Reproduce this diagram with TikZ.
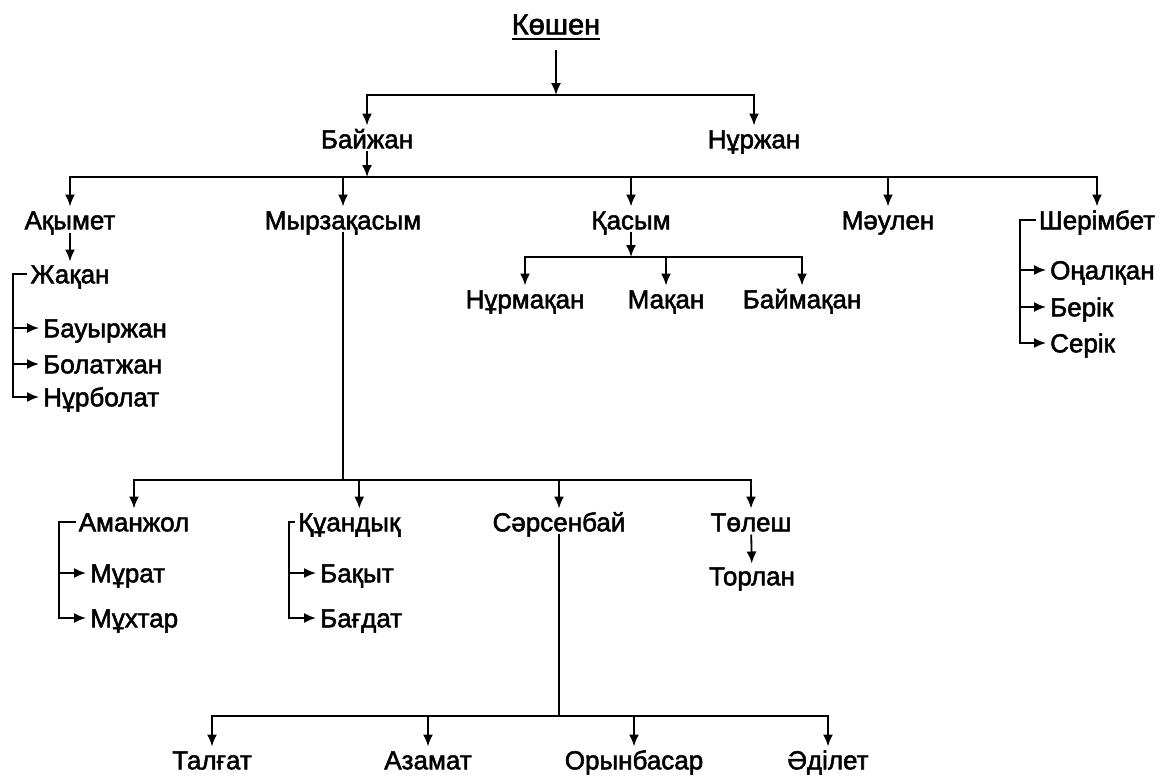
\documentclass[tikz,border=0pt]{standalone}
\usepackage{fontspec}
\setmainfont[FakeBold=2]{Liberation Sans}
\usetikzlibrary{arrows.meta,positioning}

\begin{document}
\begin{tikzpicture}[x=1pt,y=-1pt,
  nm/.style={inner sep=0pt,text height=18.6pt,text depth=0pt,font=\fontsize{26}{30}\selectfont},
  kid/.style={nm,anchor=west},
  ln/.style={line width=1.8pt},
  arr/.style={ln,-{Latex[length=12pt,width=10pt]}},
  drop/.style={arr,shorten >=4pt},
  brk/.style={arr,shorten <=3pt,shorten >=4pt}
]
\useasboundingbox (0,0) rectangle (1167,782);

% root and first split
\node[nm,font=\fontsize{29}{33}\selectfont,text height=20.8pt](kos) at (556,24){Көшен};
\draw[ln]([yshift=-4pt]kos.south west)--([yshift=-4pt]kos.south east);
\coordinate (j1) at (556,95);
\node[nm](bai) at (367,139){Байжан};
\node[nm](nur) at (754,139){Нұржан};
\draw[arr,shorten <=15pt](kos)--(j1);
\draw[drop](j1)-|(bai); \draw[drop](j1)-|(nur);

% children of Байжан
\coordinate (j2) at (367,177);
\node[nm](aqy) at (70,220){Ақымет};
\node[nm](myr) at (343,220){Мырзақасым};
\node[nm](qas) at (631,220){Қасым};
\node[nm](mau) at (888,220){Мәулен};
\node[nm](sher) at (1097,220){Шерімбет};
\draw[arr,shorten <=2pt](bai)--(j2);
\draw[drop](j2)-|(aqy); \draw[drop](j2)-|(myr); \draw[drop](j2)-|(qas);
\draw[drop](j2)-|(mau); \draw[drop](j2)-|(sher);

% Ақымет -> Жақан
\node[nm](zha) at (70,274){Жақан};
\node[kid](bau) at (43,328){Бауыржан};
\node[kid](bol) at (43,364){Болатжан};
\node[kid](nrb) at (43,397){Нұрболат};
\coordinate (bz) at (13,274);
\draw[arr,shorten <=3pt,shorten >=3pt](aqy)--(zha);
\draw[brk](zha.west)--(bz)|-(nrb.west);
\draw[drop](bz|-bau.west)--(bau.west); \draw[drop](bz|-bol.west)--(bol.west);

% Қасым
\coordinate (j3) at (631,257);
\node[nm](nrm) at (525,299){Нұрмақан};
\node[nm](mak) at (666,299){Мақан};
\node[nm](bmk) at (802,299){Баймақан};
\draw[arr,shorten <=2pt](qas)--(j3);
\draw[drop](j3)-|(nrm); \draw[drop](j3)-|(mak); \draw[drop](j3)-|(bmk);

% Шерімбет
\node[kid](ona) at (1050,270){Оңалқан};
\node[kid](ber) at (1050,307){Берік};
\node[kid](ser) at (1050,343){Серік};
\coordinate (bs) at (1020,220);
\draw[brk](sher.west)--(bs)|-(ser.west);
\draw[drop](bs|-ona.west)--(ona.west); \draw[drop](bs|-ber.west)--(ber.west);

% Мырзақасым
\coordinate (j4) at (343,480);
\node[nm](ama) at (134,522){Аманжол};
\node[nm,anchor=west](quan) at (298,522){Құандық};
\node[nm](sar) at (559,522){Сәрсенбай};
\node[nm](tol) at (751,522){Төлеш};
\node[nm](tor) at (752,576){Торлан};
\draw[ln,shorten <=2pt](myr)--(j4);
\draw[drop](j4)-|(ama); \draw[drop](j4)-|([xshift=10pt]quan.north);
\draw[drop](j4)-|(sar); \draw[drop](j4)-|(tol);
\draw[arr,shorten <=3pt,shorten >=3pt](tol)--(tor);

% Аманжол, Құандық
\node[kid](mur) at (90,573){Мұрат};
\node[kid](muh) at (90,618){Мұхтар};
\coordinate (ba) at (59,522);
\draw[brk](ama.west)--(ba)|-(muh.west);
\draw[drop](ba|-mur.west)--(mur.west);
\node[kid](baq) at (320,573){Бақыт};
\node[kid](bag) at (320,618){Бағдат};
\coordinate (bq) at (289,522);
\draw[brk](quan.west)--(bq)|-(bag.west);
\draw[drop](bq|-baq.west)--(baq.west);

% Сәрсенбай
\coordinate (j5) at (559,716);
\node[nm](tal) at (212,760){Талғат};
\node[nm](aza) at (428,760){Азамат};
\node[nm](ory) at (634,760){Орынбасар};
\node[nm](adi) at (828,760){Әділет};
\draw[ln,shorten <=2pt](sar)--(j5);
\draw[drop](j5)-|(tal); \draw[drop](j5)-|(aza);
\draw[drop](j5)-|(ory); \draw[drop](j5)-|(adi);
\end{tikzpicture}
\end{document}
